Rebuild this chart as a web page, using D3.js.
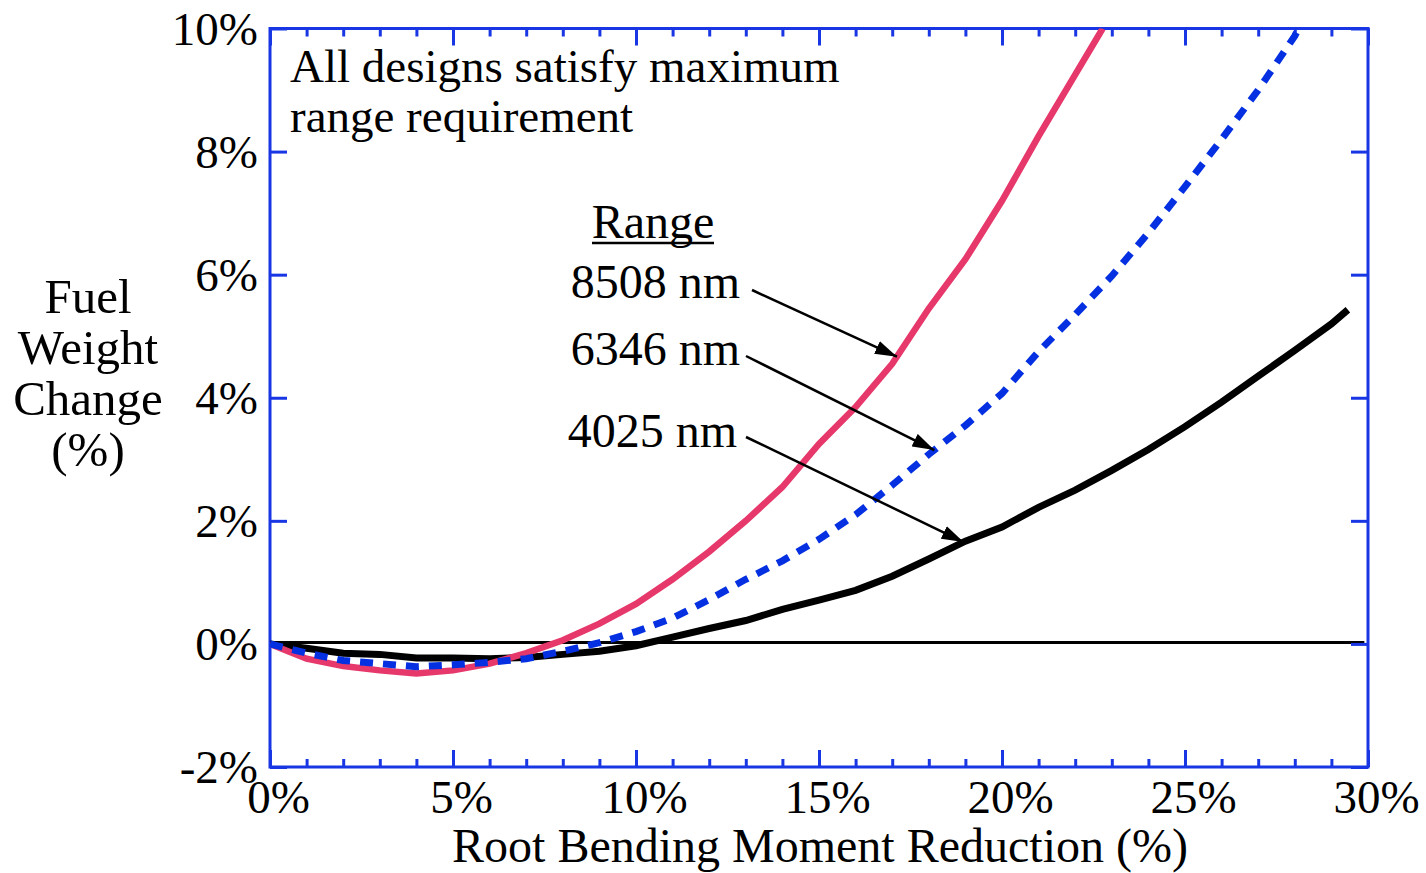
<!DOCTYPE html>
<html>
<head>
<meta charset="utf-8">
<script src="https://cdn.jsdelivr.net/npm/d3@7"></script>
<style>
  body { margin: 0; background: #fff; }
  svg text { font-family: "Liberation Serif", "Times New Roman", serif; fill: #000; }
</style>
</head>
<body>
<div id="chart"></div>
<script>

// root bending moment reduction (%) vs fuel weight change (%)
var range8508 = [[0,0],[1,-0.24],[2,-0.36],[3,-0.43],[4,-0.48],[5,-0.43],[6,-0.32],[7,-0.15],[8,0.06],
    [9,0.33],[10,0.65],[11,1.05],[12,1.5],[13,2.0],[14,2.55],[15,3.25],[16,3.85],[17,4.55],[18,5.45],
    [19,6.25],[20,7.2],[21,8.25],[22,9.25],[22.75,10.0]];
var range6346 = [[0,0],[1,-0.15],[2,-0.27],[3,-0.32],[4,-0.37],[5,-0.34],[6,-0.3],[7,-0.24],[8,-0.12],
    [9,0.02],[10,0.2],[11,0.42],[12,0.72],[13,1.05],[14,1.35],[15,1.7],[16,2.1],[17,2.58],[18,3.08],
    [19,3.55],[20,4.07],[21,4.75],[22,5.35],[23,5.98],[24,6.68],[25,7.43],[26,8.2],[27,9.0],[28,9.88],[28.1,10.0]];
var range4025 = [[0,0],[1,-0.07],[2,-0.15],[3,-0.17],[4,-0.23],[5,-0.23],[6,-0.24],[7,-0.22],[8,-0.17],
    [9,-0.12],[10,-0.03],[11,0.11],[12,0.25],[13,0.38],[14,0.56],[15,0.71],[16,0.87],[17,1.1],[18,1.38],
    [19,1.67],[20,1.9],[21,2.22],[22,2.5],[23,2.82],[24,3.16],[25,3.53],[26,3.93],[27,4.35],[28,4.77],
    [29,5.2],[29.45,5.43]];

var xMajorTicks = [0, 5, 10, 15, 20, 25, 30];
var xMinorTicks = d3.range(0, 31, 1);
var yTicks = [-2, 0, 2, 4, 6, 8, 10];

var seriesNames = ["8508 nm", "6346 nm", "4025 nm"];
var arrowAt = [17.13, 18.15, 18.95];   // x where each label's arrow hits its curve

var width = 1426, height = 873;
var plotLeft = 270, plotTop = 28.5, plotRight = 1368, plotBottom = 767;
var axisBlue = "#1836e4";

var svg = d3.select("#chart").append("svg")
    .attr("width", width)
    .attr("height", height);

var x = d3.scaleLinear().domain([0, 30]).range([plotLeft, plotRight]);
var y = d3.scaleLinear().domain([-2, 10]).range([plotBottom, plotTop]);

var defs = svg.append("defs");
defs.append("clipPath").attr("id", "plotClip")
    .append("rect")
    .attr("x", plotLeft).attr("y", plotTop)
    .attr("width", plotRight - plotLeft).attr("height", plotBottom - plotTop);

// zero line
svg.append("line")
    .attr("x1", x(0)).attr("x2", x(29.9))
    .attr("y1", y(0) - 1.5).attr("y2", y(0) - 1.5)
    .attr("stroke", "#000").attr("stroke-width", 3);

// axes
function styleAxis(g) {
    g.select(".domain").remove();
    g.selectAll(".tick line").attr("stroke", axisBlue).attr("stroke-width", 3);
}

svg.append("g").attr("transform", "translate(0," + plotBottom + ")")
    .call(d3.axisBottom(x).tickValues(xMinorTicks).tickSize(-8).tickFormat(""))
    .call(styleAxis);
svg.append("g").attr("transform", "translate(0," + plotTop + ")")
    .call(d3.axisTop(x).tickValues(xMinorTicks).tickSize(-8).tickFormat(""))
    .call(styleAxis);
svg.append("g").attr("transform", "translate(0," + plotTop + ")")
    .call(d3.axisTop(x).tickValues(xMajorTicks).tickSize(-17).tickFormat(""))
    .call(styleAxis);

var xAxis = svg.append("g").attr("transform", "translate(0," + plotBottom + ")")
    .call(d3.axisBottom(x).tickValues(xMajorTicks).tickSize(-17).tickFormat(function (d) { return d + "%"; }))
    .call(styleAxis);
xAxis.selectAll(".tick text")
    .attr("y", 46).attr("dy", 0).attr("x", 8)
    .style("font-size", "47px")
    .style("font-family", "Liberation Serif")
    .attr("fill", "#000");

var yAxis = svg.append("g").attr("transform", "translate(" + plotLeft + ",0)")
    .call(d3.axisLeft(y).tickValues(yTicks).tickSize(-17).tickPadding(12).tickFormat(function (d) { return d + "%"; }))
    .call(styleAxis);
yAxis.selectAll(".tick text")
    .attr("dy", "0.33em")
    .style("font-size", "47px")
    .style("font-family", "Liberation Serif")
    .attr("fill", "#000");

svg.append("g").attr("transform", "translate(" + plotRight + ",0)")
    .call(d3.axisRight(y).tickValues(yTicks).tickSize(-17).tickFormat(""))
    .call(styleAxis);

// frame
svg.append("rect")
    .attr("x", plotLeft).attr("y", plotTop)
    .attr("width", plotRight - plotLeft).attr("height", plotBottom - plotTop)
    .attr("fill", "none")
    .attr("stroke", axisBlue).attr("stroke-width", 3);

// curves
var line = d3.line()
    .x(function (d) { return x(d[0]); })
    .y(function (d) { return y(d[1]); });

var plot = svg.append("g").attr("clip-path", "url(#plotClip)");

plot.append("path").datum(range4025)
    .attr("d", line).attr("fill", "none")
    .attr("stroke", "#000").attr("stroke-width", 7);

plot.append("path").datum(range8508)
    .attr("d", line).attr("fill", "none")
    .attr("stroke", "#e6386b").attr("stroke-width", 6.5);

plot.append("path").datum(range6346)
    .attr("d", line).attr("fill", "none")
    .attr("stroke", "#0430e2").attr("stroke-width", 7)
    .attr("stroke-dasharray", "13,10");

// text
svg.append("text")
    .attr("x", 290).attr("y", 82)
    .style("font-size", "47px")
    .text("All designs satisfy maximum");
svg.append("text")
    .attr("x", 290).attr("y", 132)
    .style("font-size", "47px")
    .text("range requirement");

var yTitle = ["Fuel", "Weight", "Change", "(%)"];
svg.append("g").selectAll("text")
    .data(yTitle)
    .enter().append("text")
    .attr("x", 88)
    .attr("y", function (d, i) { return 313 + i * 51; })
    .attr("text-anchor", "middle")
    .style("font-size", "49px")
    .text(function (d) { return d; });

svg.append("text")
    .attr("x", 820).attr("y", 862)
    .attr("text-anchor", "middle")
    .style("font-size", "48px")
    .text("Root Bending Moment Reduction (%)");

// legend with arrows
svg.append("text")
    .attr("x", 653).attr("y", 238)
    .attr("text-anchor", "middle")
    .style("font-size", "48px")
    .text("Range");
svg.append("line")
    .attr("x1", 592).attr("x2", 714)
    .attr("y1", 243).attr("y2", 243)
    .attr("stroke", "#000").attr("stroke-width", 2.5);

defs.append("marker")
    .attr("id", "arrowHead")
    .attr("viewBox", "0 -7 22 14")
    .attr("refX", 22).attr("refY", 0)
    .attr("markerWidth", 22).attr("markerHeight", 14)
    .attr("markerUnits", "userSpaceOnUse")
    .attr("orient", "auto")
    .append("path")
    .attr("d", "M0,-7L22,0L0,7Z")
    .attr("fill", "#000");

var allSeries = [range8508, range6346, range4025];
var labelY = [298, 365, 447];
var labelEnd = [740, 740, 737];
var arrowStart = [[752, 290], [746, 356], [746, 437]];

function valueAt(data, xv) {
    var i = d3.bisector(function (d) { return d[0]; }).right(data, xv);
    var a = data[i - 1], b = data[i];
    var t = (xv - a[0]) / (b[0] - a[0]);
    return a[1] + t * (b[1] - a[1]);
}

seriesNames.forEach(function (name, i) {
    svg.append("text")
        .attr("x", labelEnd[i]).attr("y", labelY[i])
        .attr("text-anchor", "end")
        .style("font-size", "48px")
        .text(name);

    svg.append("line")
        .attr("x1", arrowStart[i][0]).attr("y1", arrowStart[i][1])
        .attr("x2", x(arrowAt[i])).attr("y2", y(valueAt(allSeries[i], arrowAt[i])))
        .attr("stroke", "#000").attr("stroke-width", 2.5)
        .attr("marker-end", "url(#arrowHead)");
});

</script>
</body>
</html>
